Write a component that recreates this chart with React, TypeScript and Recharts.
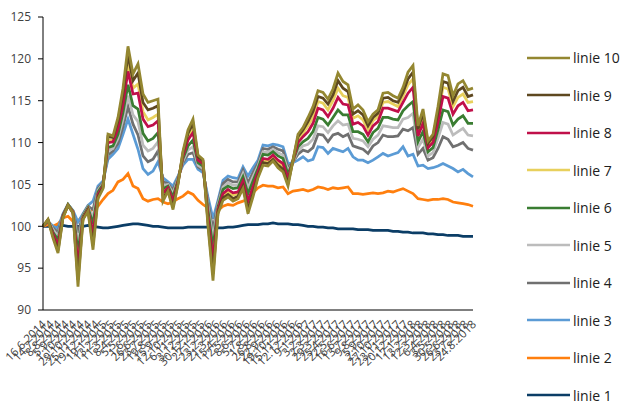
import { LineChart, Line, XAxis, YAxis } from "recharts";

const LABELS = [
  "16.6.2014", "14.7.2014", "8.8.2014", "5.9.2014", "1.10.2014", "29.10.2014", "25.11.2014", "19.12.2014",
  "19.1.2015", "13.2.2015", "11.3.2015", "8.4.2015", "5.5.2015", "1.6.2015", "26.6.2015", "23.7.2015",
  "19.8.2015", "15.9.2015", "12.10.2015", "6.11.2015", "3.12.2015", "30.12.2015",
  "27.1.2016", "23.2.2016", "21.3.2016", "15.4.2016", "12.5.2016", "8.6.2016", "5.7.2016", "1.8.2016",
  "26.8.2016", "22.9.2016", "19.10.2016", "15.11.2016", "12.12.2016",
  "9.1.2017", "3.2.2017", "2.3.2017", "29.3.2017", "25.4.2017", "22.5.2017", "16.6.2017", "13.7.2017",
  "9.8.2017", "5.9.2017", "2.10.2017", "27.10.2017", "23.11.2017", "20.12.2017",
  "17.1.2018", "13.2.2018", "12.3.2018", "6.4.2018", "3.5.2018", "30.5.2018", "26.6.2018", "23.7.2018", "24.8.2018",
];

const L1 = [
  100.0, 100.0, 100.0, 100.0, 100.1, 100.0, 100.0, 100.0, 100.0, 100.1, 100.0,
  99.9, 99.8, 99.8, 99.9,
  100.0, 100.1, 100.2, 100.3, 100.3, 100.2,
  100.1, 100.0, 100.0, 99.9, 99.8, 99.8,
  99.8, 99.8, 99.9, 99.9, 99.9, 99.9, 99.9,
  99.8, 99.8, 99.8, 99.9, 99.9, 100.0, 100.1,
  100.2, 100.2, 100.2, 100.3, 100.3, 100.4, 100.3, 100.3,
  100.3, 100.2, 100.2, 100.1, 100.0, 100.0, 99.9, 99.9,
  99.8, 99.8, 99.7, 99.7, 99.7, 99.7,
  99.6, 99.6, 99.6, 99.5, 99.5, 99.5, 99.5, 99.4,
  99.4, 99.3, 99.3, 99.2, 99.2, 99.2, 99.1, 99.1,
  99.0, 99.0, 98.9, 98.9, 98.9, 98.8, 98.8, 98.8,
];

const L2 = [
  100.0, 100.2, 100.0, 100.3, 101.0, 101.2, 100.6, 100.6, 101.3, 101.7,
  102.0, 102.4, 103.2, 103.9, 104.3, 105.3, 105.6, 106.3, 104.8, 104.5,
  103.3, 103.0, 103.2, 103.3, 102.9, 102.7, 102.9, 103.3, 103.6, 104.1,
  103.8, 103.1, 102.6, 102.2, 101.2, 101.9, 102.4, 102.6, 102.5, 102.8,
  103.0, 103.3, 104.0, 104.6, 104.9, 104.8, 104.8, 104.6, 104.7, 103.9,
  104.2, 104.3, 104.4, 104.2, 104.4, 104.7, 104.6, 104.4, 104.6, 104.5,
  104.6, 104.7, 103.9, 103.9, 103.8, 103.9, 104.0, 103.9, 104.0, 104.2,
  104.1, 104.3, 104.5, 104.2, 103.9, 103.3, 103.2, 103.1, 103.2, 103.2,
  103.3, 103.2, 102.9, 102.8, 102.7, 102.6, 102.4,
];

const L3 = [
  100.0, 100.6, 100.0, 99.8, 101.5, 102.6, 101.9, 100.5, 101.5, 102.5,
  103.0, 104.8, 105.4, 108.0, 108.6, 109.3, 111.0, 112.8, 111.0, 109.2,
  106.9, 106.2, 106.6, 107.7, 105.8, 105.3, 104.8, 106.0, 107.3, 108.0,
  108.0, 106.8, 106.4, 103.5, 100.9, 103.1, 105.5, 106.0, 105.8, 105.7,
  107.1, 106.0, 107.0, 107.9, 109.7, 109.6, 109.8, 109.7, 109.5, 107.5,
  107.6, 107.9, 108.3, 107.8, 108.0, 109.5, 109.4, 108.7, 109.3, 109.1,
  108.9, 109.3, 108.3, 107.9, 107.9, 107.6, 107.9, 108.3, 108.7, 108.4,
  108.6, 108.8, 109.5, 108.4, 108.6, 107.2, 107.3, 106.9, 107.0, 107.2,
  107.5, 107.2, 106.9, 106.5, 106.8, 106.3, 105.9,
];

const L4 = [
  100.0, 100.6, 99.8, 99.3, 101.4, 102.6, 101.8, 99.2, 101.4, 102.4,
  102.0, 104.5, 105.2, 108.5, 109.0, 109.9, 111.9, 114.3, 112.2, 110.9,
  108.4, 107.7, 108.0, 109.0, 105.3, 105.1, 104.3, 105.8, 107.6, 108.6,
  108.8, 107.1, 106.7, 102.9, 99.6, 102.8, 105.1, 105.6, 105.3, 105.3,
  106.7, 105.2, 106.4, 107.5, 109.3, 109.2, 109.5, 109.2, 109.0, 107.0,
  107.7, 108.6, 109.1, 108.9, 109.4, 111.0, 110.9, 110.1, 110.9, 111.1,
  110.7, 111.0, 109.6, 109.4, 109.2, 108.7, 109.6, 110.0, 110.9, 110.7,
  110.7, 110.8, 111.6, 111.4, 111.8, 108.6, 109.3, 107.9, 108.2, 109.3,
  110.7, 110.4, 109.5, 109.7, 110.0, 109.3, 109.1,
];

const L5 = [
  100.0, 100.7, 99.6, 98.8, 101.3, 102.6, 101.8, 98.0, 101.3, 102.3,
  101.1, 104.3, 105.1, 109.0, 109.3, 110.5, 112.8, 115.6, 113.3, 112.5,
  109.7, 109.0, 109.3, 110.1, 104.9, 105.0, 103.9, 105.7, 107.8, 109.1,
  109.5, 107.3, 106.9, 102.4, 98.5, 102.6, 104.7, 105.2, 104.9, 104.9,
  106.3, 104.6, 105.9, 107.2, 108.9, 108.8, 109.2, 108.8, 108.5, 106.6,
  107.7, 109.1, 109.6, 109.8, 110.4, 112.0, 111.9, 111.2, 112.0, 112.6,
  112.1, 112.2, 110.5, 110.4, 110.2, 109.5, 110.4, 110.9, 112.0, 111.9,
  111.8, 111.8, 112.8, 113.0, 113.5, 109.4, 110.4, 108.4, 108.8, 110.5,
  112.4, 112.2, 110.9, 111.3, 111.7, 110.9, 110.8,
];

const L6 = [
  100.0, 100.7, 99.3, 98.4, 101.3, 102.6, 101.8, 96.9, 101.2, 102.2,
  100.3, 104.1, 105.0, 109.4, 109.6, 111.0, 113.6, 116.9, 114.4, 114.0,
  111.1, 110.2, 110.5, 111.2, 104.5, 104.8, 103.5, 105.5, 108.1, 109.6,
  110.3, 107.6, 107.2, 101.9, 97.4, 102.3, 104.4, 104.8, 104.5, 104.6,
  105.9, 103.9, 105.4, 106.9, 108.6, 108.5, 108.9, 108.4, 108.1, 106.2,
  107.8, 109.5, 110.1, 110.5, 111.3, 113.0, 112.8, 112.1, 113.0, 113.9,
  113.3, 113.3, 111.3, 111.3, 111.0, 110.1, 111.2, 111.7, 113.0, 113.0,
  112.8, 112.7, 113.8, 114.4, 114.9, 110.1, 111.3, 108.9, 109.4, 111.5,
  113.9, 113.7, 112.1, 112.8, 113.2, 112.3, 112.3,
];

const L7 = [
  100.0, 100.8, 98.9, 97.5, 101.1, 102.5, 101.7, 94.6, 101.0, 102.0,
  98.6, 103.7, 104.7, 110.3, 110.3, 112.1, 115.2, 119.4, 116.5, 117.0,
  113.7, 112.7, 113.0, 113.4, 103.7, 104.5, 102.7, 105.2, 108.6, 110.7,
  111.6, 108.1, 107.6, 100.8, 95.3, 101.9, 103.7, 104.1, 103.7, 103.9,
  105.1, 102.6, 104.3, 106.3, 107.9, 107.8, 108.3, 107.6, 107.2, 105.4,
  107.8, 110.4, 111.1, 112.0, 113.0, 114.9, 114.7, 113.9, 115.0, 116.5,
  115.6, 115.4, 112.9, 113.2, 112.7, 111.5, 112.6, 113.1, 114.8, 114.9,
  114.6, 114.3, 115.5, 116.9, 117.6, 111.3, 113.0, 109.7, 110.4, 113.2,
  116.6, 116.4, 114.3, 115.4, 115.8, 114.8, 114.9,
];

const L8 = [
  100.0, 100.7, 99.1, 97.8, 101.2, 102.5, 101.7, 95.4, 101.0, 102.0,
  99.2, 103.8, 104.8, 110.0, 110.1, 111.7, 114.6, 118.5, 115.8, 115.9,
  112.8, 111.9, 112.1, 112.6, 104.0, 104.6, 103.0, 105.3, 108.4, 110.3,
  111.2, 107.9, 107.5, 101.2, 96.0, 102.0, 103.9, 104.4, 104.0, 104.1,
  105.4, 103.0, 104.7, 106.5, 108.1, 108.0, 108.5, 107.9, 107.5, 105.7,
  107.8, 110.0, 110.7, 111.3, 112.3, 114.1, 113.9, 113.1, 114.1, 115.4,
  114.6, 114.5, 112.2, 112.4, 112.0, 110.9, 112.0, 112.5, 114.1, 114.1,
  113.9, 113.7, 114.8, 115.9, 116.6, 110.8, 112.3, 109.4, 110.0, 112.5,
  115.5, 115.3, 113.4, 114.4, 114.8, 113.8, 113.9,
];

const L9 = [
  100.0, 100.8, 98.8, 97.1, 101.1, 102.5, 101.6, 93.6, 100.9, 101.9,
  97.8, 103.5, 104.6, 110.7, 110.6, 112.6, 115.9, 120.5, 117.4, 118.3,
  114.8, 113.9, 114.1, 114.4, 103.3, 104.3, 102.3, 105.1, 108.8, 111.1,
  112.3, 108.3, 107.8, 100.4, 94.3, 101.7, 103.4, 103.8, 103.3, 103.6,
  104.8, 102.0, 103.9, 106.0, 107.6, 107.5, 108.0, 107.3, 106.8, 105.1,
  107.9, 110.7, 111.5, 112.5, 113.7, 115.5, 115.3, 114.6, 115.7, 117.4,
  116.5, 116.1, 113.4, 113.8, 113.3, 112.0, 113.0, 113.5, 115.3, 115.4,
  115.0, 114.8, 116.0, 117.6, 118.4, 111.6, 113.5, 109.9, 110.7, 113.7,
  117.3, 117.1, 114.9, 116.2, 116.6, 115.5, 115.7,
];

const L10 = [
  100.0, 100.8, 98.6, 96.8, 101.0, 102.5, 101.6, 92.8, 100.8, 101.8,
  97.2, 103.3, 104.5, 111.0, 110.8, 113.0, 116.5, 121.5, 118.2, 119.4,
  115.8, 114.8, 115.0, 115.2, 103.0, 104.2, 102.0, 105.0, 109.0, 111.5,
  112.8, 108.5, 108.0, 100.0, 93.5, 101.5, 103.1, 103.5, 103.0, 103.3,
  104.5, 101.5, 103.5, 105.8, 107.3, 107.2, 107.8, 107.0, 106.5, 104.8,
  107.9, 111.0, 111.8, 113.0, 114.3, 116.2, 116.0, 115.2, 116.4, 118.3,
  117.3, 116.9, 114.0, 114.5, 113.9, 112.5, 113.4, 113.9, 115.9, 116.0,
  115.6, 115.3, 116.6, 118.4, 119.2, 112.0, 114.0, 110.2, 111.0, 114.3,
  118.2, 118.0, 115.6, 117.0, 117.4, 116.3, 116.5,
];

const Y_TICKS = [90, 95, 100, 105, 110, 115, 120, 125];

const SERIES = [
  { key: "l1", name: "linie 1", color: "#0b3d66", values: L1 },
  { key: "l2", name: "linie 2", color: "#ff7f0e", values: L2 },
  { key: "l3", name: "linie 3", color: "#5b9bd5", values: L3 },
  { key: "l4", name: "linie 4", color: "#707070", values: L4 },
  { key: "l5", name: "linie 5", color: "#bcbcbc", values: L5 },
  { key: "l6", name: "linie 6", color: "#3a7d32", values: L6 },
  { key: "l7", name: "linie 7", color: "#e8d05c", values: L7 },
  { key: "l8", name: "linie 8", color: "#c0104a", values: L8 },
  { key: "l9", name: "linie 9", color: "#5e4820", values: L9 },
  { key: "l10", name: "linie 10", color: "#948731", values: L10 },
];

const LAST = L1.length - 1;
const data = L1.map((_, i) => {
  const row: Record<string, number> = { i };
  SERIES.forEach((s) => (row[s.key] = s.values[i]));
  return row;
});
const xTicks = LABELS.map((_, j) => (j * LAST) / (LABELS.length - 1));

const FONT = "'Open Sans', 'Segoe UI', sans-serif";

function DateTick(props: any) {
  const { x, y, index } = props;
  const label = LABELS[index] ?? "";
  const tx = x + 4;
  const ty = y + 7;
  return (
    <text
      x={tx}
      y={ty}
      transform={`rotate(-45 ${tx} ${ty})`}
      textAnchor="end"
      fontSize={11.5}
      fill="#404040"
      fontFamily={FONT}
    >
      {label}
    </text>
  );
}

export default function App() {
  return (
    <div style={{ position: "absolute", left: 0, top: 0, width: 623, height: 401, background: "#fff", fontFamily: FONT }}>
      <LineChart width={623} height={401} data={data} margin={{ top: 17, right: 150, bottom: 0, left: 0 }}>
        <XAxis
          type="number"
          dataKey="i"
          domain={[0, LAST]}
          ticks={xTicks}
          interval={0}
          tick={<DateTick />}
          tickLine={false}
          axisLine={{ stroke: "#000" }}
          height={91}
        />
        <YAxis
          domain={[90, 125]}
          ticks={Y_TICKS}
          interval={0}
          width={43}
          tickSize={5}
          tickMargin={7}
          tickLine={{ stroke: "#000" }}
          axisLine={{ stroke: "#000" }}
          tick={{ fontSize: 12, fill: "#404040", fontFamily: FONT }}
        />
        {SERIES.map((s) => (
          <Line
            key={s.key}
            dataKey={s.key}
            name={s.name}
            stroke={s.color}
            strokeWidth={2.75}
            dot={false}
            type="linear"
            isAnimationActive={false}
          />
        ))}
      </LineChart>
      <div style={{ position: "absolute", left: 527, top: 39, width: 96 }}>
        {[...SERIES].reverse().map((s) => (
          <div key={s.key} style={{ height: 37.5, display: "flex", alignItems: "center" }}>
            <svg width={44} height={4} style={{ flex: "none" }}>
              <line x1={0} y1={2} x2={43} y2={2} stroke={s.color} strokeWidth={2.5} />
            </svg>
            <span style={{ fontSize: 14, color: "#202020", marginLeft: 2, whiteSpace: "nowrap" }}>{s.name}</span>
          </div>
        ))}
      </div>
    </div>
  );
}
